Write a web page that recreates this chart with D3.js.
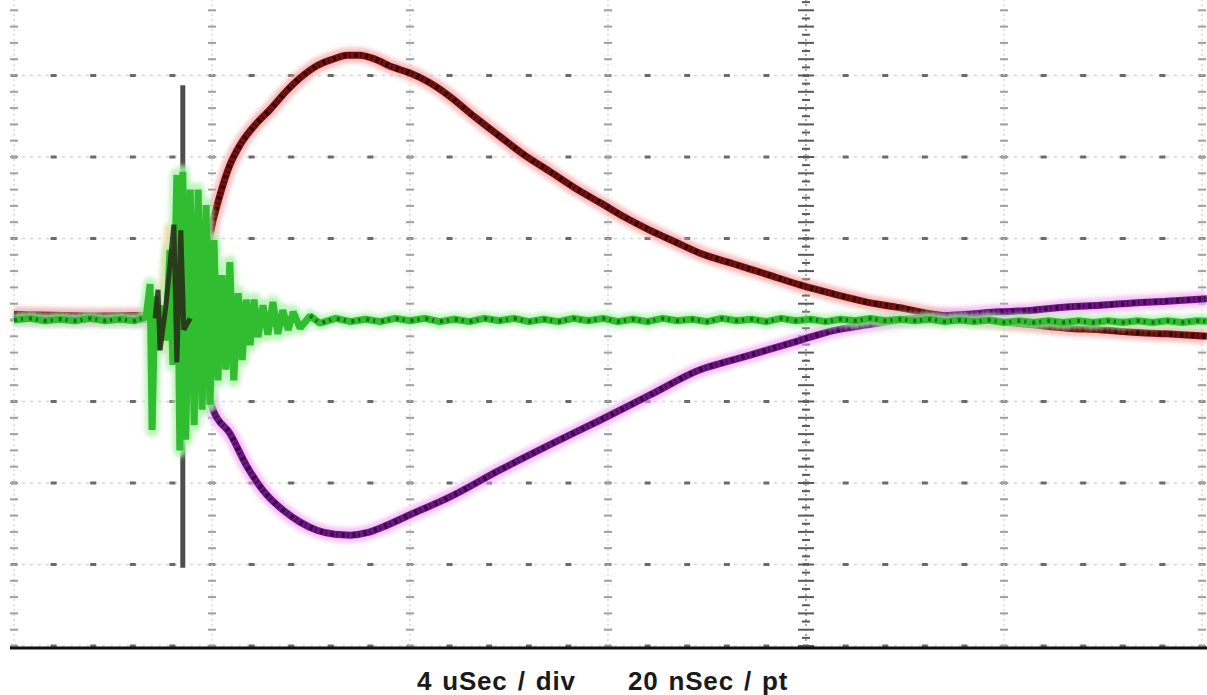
<!DOCTYPE html>
<html>
<head>
<meta charset="utf-8">
<script src="https://cdn.jsdelivr.net/npm/d3@7"></script>
<style>
  html, body { margin: 0; padding: 0; background: #fff; }
  svg { display: block; }
</style>
</head>
<body>
<div id="scope"><svg></svg></div>
<script>
// time in uSec, amplitude in divisions (4 uSec / div)
const timeTicks = [0, 4, 8, 12, 16, 20, 24];
const levelTicks = [-4, -3, -2, -1, 0, 1, 2, 3, 4];
const caption = ["4 uSec / div", "20 nSec / pt"];

// [t, v]
const redTrace = [
  [0.00, 0.07], [1.74, 0.05], [3.15, 0.06], [3.66, 0.10], [3.82, 0.43], [3.96, 1.04],
  [4.16, 1.53], [4.36, 1.90], [4.57, 2.15], [4.91, 2.42], [5.17, 2.58], [5.52, 2.82],
  [5.78, 2.97], [6.12, 3.12], [6.44, 3.20], [6.73, 3.25], [6.99, 3.25], [7.25, 3.21],
  [7.66, 3.10], [8.00, 3.03], [8.40, 2.91], [8.81, 2.74], [9.31, 2.49], [9.82, 2.25],
  [10.32, 2.02], [10.83, 1.82], [11.33, 1.62], [11.84, 1.44], [12.34, 1.26], [12.85, 1.10],
  [13.35, 0.96], [13.86, 0.82], [14.53, 0.69], [15.21, 0.56], [15.88, 0.43], [16.55, 0.32],
  [17.23, 0.22], [17.90, 0.15], [18.57, 0.07], [19.25, 0.02], [19.92, -0.02], [20.59, -0.06],
  [21.27, -0.10], [21.94, -0.12], [22.61, -0.15], [23.29, -0.17], [24.10, -0.20]
];

const purpleTrace = [
  [0.00, 0.02], [3.66, 0.00], [3.76, -0.12], [3.90, -0.80], [4.02, -1.10], [4.36, -1.39],
  [4.71, -1.80], [5.03, -2.09], [5.43, -2.33], [5.78, -2.48], [6.12, -2.58], [6.48, -2.63],
  [6.79, -2.64], [7.13, -2.61], [7.45, -2.54], [8.00, -2.39], [8.81, -2.17], [9.82, -1.84],
  [10.83, -1.53], [11.84, -1.23], [12.85, -0.92], [13.86, -0.61], [14.53, -0.49], [15.21, -0.37],
  [15.88, -0.25], [16.55, -0.13], [17.23, -0.06], [17.90, 0.00], [18.57, 0.04], [19.25, 0.07],
  [19.92, 0.10], [20.59, 0.12], [21.27, 0.16], [21.94, 0.18], [22.61, 0.21], [23.29, 0.23],
  [24.10, 0.26]
];

const greenTrace = [
  [0.00, 0.00], [0.32, 0.02], [0.63, -0.01], [0.93, 0.01], [1.23, -0.01], [1.54, 0.02],
  [1.84, -0.01], [2.14, 0.01], [2.44, -0.01], [2.67, 0.04], [2.75, 0.44], [2.79, -1.35],
  [2.85, 0.29], [2.91, -0.37], [2.99, 0.18], [3.07, -0.25], [3.15, 0.86], [3.21, -0.55],
  [3.29, 1.78], [3.35, -1.60], [3.41, 1.82], [3.47, -1.47], [3.56, 1.60], [3.64, -1.29],
  [3.72, 1.60], [3.80, -1.10], [3.88, 1.41], [3.96, -1.04], [4.04, 0.98], [4.12, -0.74],
  [4.20, 0.55], [4.28, -0.61], [4.36, 0.71], [4.44, -0.74], [4.53, 0.33], [4.61, -0.49],
  [4.69, 0.25], [4.77, -0.31], [4.85, 0.25], [4.93, -0.21], [5.03, 0.18], [5.13, -0.18],
  [5.23, 0.22], [5.33, -0.17], [5.43, 0.12], [5.54, -0.12], [5.64, 0.10], [5.78, -0.10],
  [5.98, 0.05], [6.18, -0.04], [6.5, 0.02], [6.8, -0.02], [7.1, 0.01], [7.4, -0.02],
  [7.7, 0.02], [8.0, -0.01], [8.3, 0.02], [8.6, -0.02], [8.9, 0.01], [9.2, -0.02],
  [9.5, 0.02], [9.8, -0.01], [10.1, 0.02], [10.4, -0.02], [10.7, 0.01], [11.0, -0.02],
  [11.3, 0.02], [11.6, -0.01], [11.9, 0.02], [12.2, -0.02], [12.5, 0.01], [12.8, -0.02],
  [13.1, 0.02], [13.4, -0.01], [13.7, 0.01], [14.0, -0.02], [14.3, 0.02], [14.6, -0.01],
  [14.9, 0.01], [15.2, -0.02], [15.5, 0.02], [15.8, -0.01], [16.1, 0.01], [16.4, -0.02],
  [16.7, 0.01], [17.0, -0.01], [17.3, 0.02], [17.6, -0.01], [17.9, 0.01], [18.2, -0.01],
  [18.5, 0.01], [18.8, -0.02], [19.1, 0.00], [19.4, -0.02], [19.7, 0.00], [20.0, -0.03],
  [20.3, -0.01], [20.6, -0.03], [20.9, -0.01], [21.2, -0.03], [21.5, -0.01], [21.8, -0.03],
  [22.1, -0.01], [22.4, -0.03], [22.7, -0.01], [23.0, -0.03], [23.3, -0.01], [23.6, -0.03],
  [23.9, -0.01], [24.2, -0.02]
];

// dark ringing inside the burst
const darkRing = [
  [2.85, 0.02], [2.91, 0.37], [2.95, -0.37], [3.07, 0.18], [3.23, 1.17],
  [3.29, -0.52], [3.37, 1.10], [3.43, -0.12], [3.56, 0.02]
];

// trigger spike: time, top, bottom
const spike = [3.41, 2.88, -3.04];

const width = 1207;
const height = 695;
const svg = d3.select("#scope svg").attr("width", width).attr("height", height);

const x = d3.scaleLinear().domain([0, 24]).range([14, 1202]);
const y = d3.scaleLinear().domain([-4, 4]).range([646, -6]);

const defs = svg.append("defs");
defs.append("filter").attr("id", "soft")
  .append("feGaussianBlur").attr("stdDeviation", 2.2);

// grid
const grid = svg.append("g");

// horizontal graticule
levelTicks.forEach(v => {
  grid.append("line")
    .attr("x1", x(0)).attr("x2", x(24))
    .attr("y1", y(v)).attr("y2", y(v))
    .attr("stroke", "#d6d6d6").attr("stroke-width", 1.5)
    .attr("stroke-dasharray", "3 5");
  grid.selectAll(null)
    .data(d3.range(0, 24.01, 0.8))
    .join("rect")
    .attr("x", d => x(d) - 3).attr("y", y(v) - 1.5)
    .attr("width", 6).attr("height", 3)
    .attr("fill", "#6a6a6a");
});

// vertical graticule with minor marks
timeTicks.forEach(t => {
  const centre = t === 16;
  grid.append("line")
    .attr("x1", x(t)).attr("x2", x(t))
    .attr("y1", y(4)).attr("y2", y(-4))
    .attr("stroke", centre ? "#aaa" : "#dadada")
    .attr("stroke-width", centre ? 2 : 1.5)
    .attr("stroke-dasharray", "2 3");
  grid.selectAll(null)
    .data(d3.range(-4, 4.01, centre ? 0.1 : 0.2))
    .join("rect")
    .attr("x", d => x(t) - (centre && Math.round(d * 10) % 2 === 0 ? 8 : 4))
    .attr("y", d => y(d) - 1)
    .attr("width", d => centre && Math.round(d * 10) % 2 === 0 ? 16 : 8)
    .attr("height", 2)
    .attr("fill", centre ? "#5a5a5a" : "#a0a0a0");
});

// bottom rule
svg.append("line")
  .attr("x1", 10).attr("x2", width)
  .attr("y1", y(-4) + 2).attr("y2", y(-4) + 2)
  .attr("stroke", "#111").attr("stroke-width", 3);

const smooth = d3.line().x(d => x(d[0])).y(d => y(d[1])).curve(d3.curveMonotoneX);
const straight = d3.line().x(d => x(d[0])).y(d => y(d[1]));

// glow first
svg.append("path").attr("d", smooth(redTrace))
  .attr("fill", "none").attr("stroke", "#f4a0a0").attr("stroke-width", 15)
  .attr("opacity", 0.7).attr("filter", "url(#soft)");
svg.append("path").attr("d", smooth(purpleTrace))
  .attr("fill", "none").attr("stroke", "#f2a6f2").attr("stroke-width", 15)
  .attr("opacity", 0.7).attr("filter", "url(#soft)");

// cores
svg.append("path").attr("d", smooth(redTrace))
  .attr("fill", "none").attr("stroke", "#741010").attr("stroke-width", 7);
svg.append("path").attr("d", smooth(redTrace))
  .attr("fill", "none").attr("stroke", "#2e0505").attr("stroke-width", 5)
  .attr("stroke-dasharray", "3 3 1 4");
svg.append("path").attr("d", smooth(purpleTrace))
  .attr("fill", "none").attr("stroke", "#6c1585").attr("stroke-width", 7);
svg.append("path").attr("d", smooth(purpleTrace))
  .attr("fill", "none").attr("stroke", "#35063f").attr("stroke-width", 5)
  .attr("stroke-dasharray", "3 3 1 4");

// trigger spike
svg.append("line")
  .attr("x1", x(spike[0])).attr("x2", x(spike[0]))
  .attr("y1", y(spike[1])).attr("y2", y(spike[2]))
  .attr("stroke", "#4e4e4e").attr("stroke-width", 5);

// ringing glow (orange) and green trace
svg.append("path").attr("d", straight(darkRing))
  .attr("fill", "none").attr("stroke", "#f0cf90").attr("stroke-width", 18)
  .attr("opacity", 0.7).attr("filter", "url(#soft)");
svg.append("path").attr("d", straight(greenTrace))
  .attr("fill", "none").attr("stroke", "#aef2ae").attr("stroke-width", 14)
  .attr("stroke-linejoin", "round")
  .attr("opacity", 0.8).attr("filter", "url(#soft)");
svg.append("path").attr("d", straight(greenTrace))
  .attr("fill", "none").attr("stroke", "#30bd30").attr("stroke-width", 7)
  .attr("stroke-linejoin", "bevel");

// darker speckle only on the quiet parts of the green trace
[greenTrace.filter(d => d[0] <= 2.7), greenTrace.filter(d => d[0] >= 5.9)].forEach(part => {
  svg.append("path").attr("d", straight(part))
    .attr("fill", "none").attr("stroke", "#137313").attr("stroke-width", 4)
    .attr("stroke-linejoin", "bevel")
    .attr("stroke-dasharray", "3 4 2 6");
});
svg.append("path").attr("d", straight(darkRing))
  .attr("fill", "none").attr("stroke", "#262614").attr("stroke-width", 5)
  .attr("stroke-linejoin", "bevel").attr("opacity", 0.85);

// caption
svg.selectAll(".caption")
  .data(caption)
  .join("text")
  .attr("class", "caption")
  .attr("x", (d, i) => i === 0 ? 417 : 628)
  .attr("y", 690)
  .attr("font-family", "Liberation Sans, Arial, sans-serif")
  .attr("font-weight", "bold")
  .attr("font-size", 26)
  .attr("letter-spacing", 0.8)
  .attr("word-spacing", 2)
  .attr("fill", "#1a1a1a")
  .text(d => d);
</script>
</body>
</html>
